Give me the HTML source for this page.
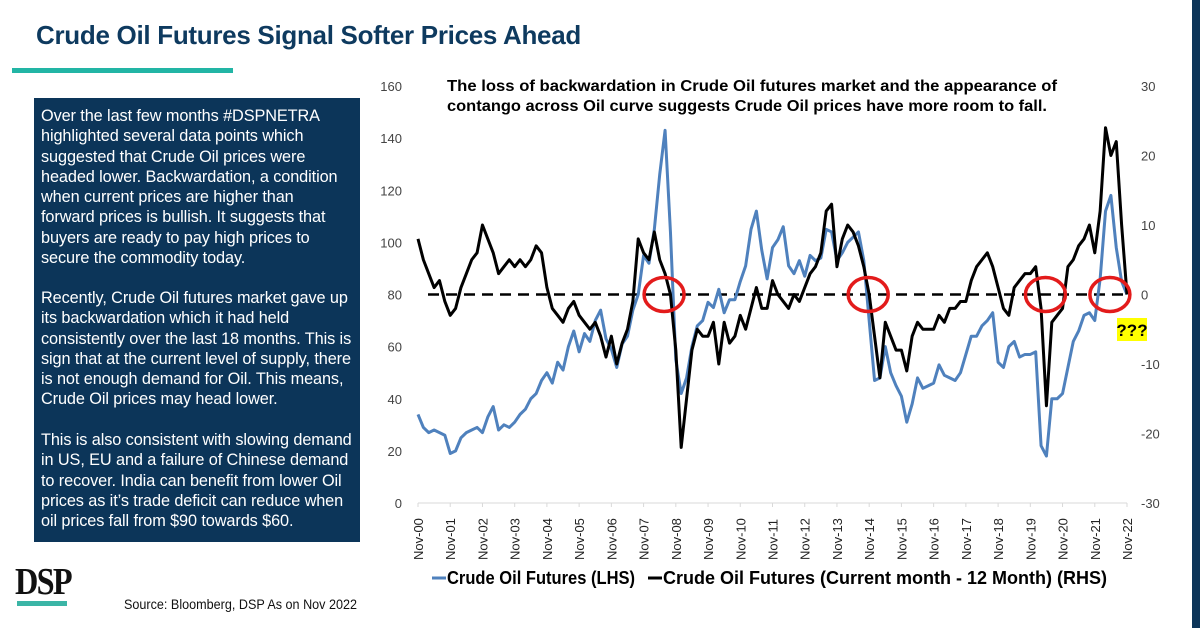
<!DOCTYPE html>
<html><head><meta charset="utf-8"><style>
body{margin:0;width:1200px;height:628px;background:#fff;overflow:hidden;position:relative;font-family:"Liberation Sans",sans-serif}
.abs{position:absolute}
#title{left:36px;top:20px;font-size:26px;font-weight:bold;color:#0e3a5f;white-space:nowrap;letter-spacing:-0.3px}
#bar{left:12px;top:68px;width:221px;height:5px;background:#22b5a5}
#panel{left:34px;top:98px;width:326px;height:444px;background:#0c3559}
#panel div{position:absolute;left:7px;color:#fff;font-size:16.3px;line-height:20.3px;white-space:nowrap;letter-spacing:-0.1px}
#stripe{left:1192px;top:0;width:8px;height:628px;background:#0c3559}
#logo{left:15px;top:560px;font-family:"Liberation Serif",serif;font-weight:bold;font-size:38px;color:#111;letter-spacing:-2px;transform:scaleX(0.85);transform-origin:left}
#logobar{left:17px;top:601px;width:50px;height:5px;background:#3bb5a6}
#source{left:124px;top:596px;font-size:14px;color:#111;transform:scaleX(0.9);transform-origin:left;white-space:nowrap}
</style></head><body>
<div id="title" class="abs">Crude Oil Futures Signal Softer Prices Ahead</div>
<div id="bar" class="abs"></div>
<div id="stripe" class="abs"></div>
<div id="panel" class="abs">
<div style="top:8px">Over the last few months #DSPNETRA<br>highlighted several data points which<br>suggested that Crude Oil prices were<br>headed lower. Backwardation, a condition<br>when current prices are higher than<br>forward prices is bullish. It suggests that<br>buyers are ready to pay high prices to<br>secure the commodity today.</div>
<div style="top:190px">Recently, Crude Oil futures market gave up<br>its backwardation which it had held<br>consistently over the last 18 months. This is<br>sign that at the current level of supply, there<br>is not enough demand for Oil. This means,<br>Crude Oil prices may head lower.</div>
<div style="top:332px">This is also consistent with slowing demand<br>in US, EU and a failure of Chinese demand<br>to recover. India can benefit from lower Oil<br>prices as it’s trade deficit can reduce when<br>oil prices fall from $90 towards $60.</div>
</div>
<div id="logo" class="abs">DSP</div>
<div id="logobar" class="abs"></div>
<div id="source" class="abs">Source: Bloomberg, DSP As on Nov 2022</div>
<svg id="chart" class="abs" style="left:0;top:0" width="1200" height="628">
<g id="axes"></g><g id="lines"></g><g id="ann"></g>
</svg>
<script>
const xTickLabels=["Nov-00","Nov-01","Nov-02","Nov-03","Nov-04","Nov-05","Nov-06","Nov-07","Nov-08","Nov-09","Nov-10","Nov-11","Nov-12","Nov-13","Nov-14","Nov-15","Nov-16","Nov-17","Nov-18","Nov-19","Nov-20","Nov-21","Nov-22"];
const leftTicks=[0,20,40,60,80,100,120,140,160];
const rightTicks=[-30,-20,-10,0,10,20,30];
// bimonthly from Nov-00 (Nov,Jan,Mar,May,Jul,Sep)
const priceLHS=[34,29,27,28,27,26, 19,20,25,27,28,29, 27,33,37,28,30,29, 31,34,36,40,42,47, 50,46,54,51,60,66, 58,65,62,70,74,63, 59,52,61,64,74,80, 95,92,105,126,143,104, 55,42,48,60,68,70, 77,75,82,73,78,78, 85,91,105,112,97,86, 98,101,106,91,88,93, 87,95,93,94,105,104, 93,96,100,102,104,93, 70,47,48,60,50,45, 41,31,38,48,44,45, 46,53,49,48,47,50, 57,64,64,68,70,73, 54,52,60,62,56,57, 57,58,22,18,40,40, 42,52,62,66,72,73, 70,86,112,118,98,85, 80];
const spreadRHS=[8,5,3,1,2,-1, -3,-2,1,3,5,6, 10,8,6,3,4,5, 4,5,4,5,7,6, 1,-2,-3,-4,-2,-1, -3,-4,-5,-4,-6,-9, -6,-10,-7,-5,-1,8, 6,5,9,5,3,0, -8,-22,-15,-8,-5,-6, -6,-4,-10,-4,-7,-6, -3,-5,-2,1,-2,-2, 2,0,-1,-2,0,-1, 1,3,4,6,12,13, 4,8,10,9,7,4, 0,-6,-12,-4,-6,-8, -8,-11,-6,-4,-5,-5, -5,-3,-4,-2,-2,-1, -1,2,4,5,6,4, 1,-2,-3,1,2,3, 3,4,-2,-16,-4,-3, -2,4,5,7,8,10, 6,12,24,20,22,10, 0];
const circleIdx=[46,84,117,129];

const NS="http://www.w3.org/2000/svg";
const X0=418,X1=1127,YT=86,YB=503;
const xAt=i=>X0+(X1-X0)*i/(12*22/2);
const yL=v=>YB-(v/160)*(YB-YT);
const yR=v=>YB-((v+30)/60)*(YB-YT);
function mk(tag,attrs,parent,txt){const e=document.createElementNS(NS,tag);for(const k in attrs)e.setAttribute(k,attrs[k]);if(txt!==undefined)e.textContent=txt;parent.appendChild(e);return e;}
const axes=document.getElementById('axes'),lines=document.getElementById('lines'),ann=document.getElementById('ann');
const ax=mk('line',{x1:X0,x2:X1,y1:YB,y2:YB,stroke:'#d9d9d9','stroke-width':1},axes);


leftTicks.forEach(v=>{const t=mk('text',{x:402,y:yL(v)+5,'text-anchor':'end','font-size':13,fill:'#444'},axes,String(v));

});
rightTicks.forEach(v=>{const t=mk('text',{x:1141,y:yR(v)+5,'text-anchor':'start','font-size':13,fill:'#444'},axes,String(v));

});
xTickLabels.forEach((s,i)=>{const x=X0+(X1-X0)*i/22;
mk('line',{x1:x,x2:x,y1:YB,y2:YB+4,stroke:'#d9d9d9'},axes);
const t=mk('text',{x:0,y:0,transform:`translate(${x+5},560) rotate(-90)`,'font-size':13,fill:'#222'},axes,s);

});
const zl=mk('line',{x1:X0+10,x2:X1,y1:yR(0),y2:yR(0),stroke:'#000','stroke-width':2.5,'stroke-dasharray':'11 7'},lines);


const bp=mk('polyline',{points:priceLHS.map((v,i)=>xAt(i)+','+yL(v)).join(' '),fill:'none',stroke:'#4f81bd','stroke-width':3,'stroke-linejoin':'round'},lines);


const kp=mk('polyline',{points:spreadRHS.map((v,i)=>xAt(i)+','+yR(v)).join(' '),fill:'none',stroke:'#000','stroke-width':3,'stroke-linejoin':'round'},lines);


circleIdx.forEach(i=>{const c=mk('ellipse',{cx:xAt(i)-1,cy:yR(0),rx:20,ry:17,fill:'none',stroke:'#e31b1b','stroke-width':3.5},ann);

});
const yb=mk('rect',{x:1117,y:318,width:30,height:23,fill:'#ffff00'},ann);


const q=mk('text',{x:1132,y:336,'text-anchor':'middle','font-size':17,'font-weight':'bold',fill:'#000'},ann,'???');


const t1=mk('text',{x:447,y:91,'font-size':15.5,'font-weight':'bold',fill:'#000',textLength:610,lengthAdjust:'spacingAndGlyphs'},ann,'The loss of backwardation in Crude Oil futures market and the appearance of');


const t2=mk('text',{x:447,y:111,'font-size':15.5,'font-weight':'bold',fill:'#000',textLength:600,lengthAdjust:'spacingAndGlyphs'},ann,'contango across Oil curve suggests Crude Oil prices have more room to fall.');


const l1=mk('line',{x1:432,x2:446,y1:578,y2:578,stroke:'#4f81bd','stroke-width':3},ann);


const lt1=mk('text',{x:447,y:584,'font-size':18.5,'font-weight':'bold',fill:'#000',textLength:188,lengthAdjust:'spacingAndGlyphs'},ann,'Crude Oil Futures (LHS)');


const l2=mk('line',{x1:648,x2:662,y1:578,y2:578,stroke:'#000','stroke-width':3},ann);


const lt2=mk('text',{x:663,y:584,'font-size':18.5,'font-weight':'bold',fill:'#000',textLength:444,lengthAdjust:'spacingAndGlyphs'},ann,'Crude Oil Futures (Current month - 12 Month) (RHS)');


</script>
</body></html>
